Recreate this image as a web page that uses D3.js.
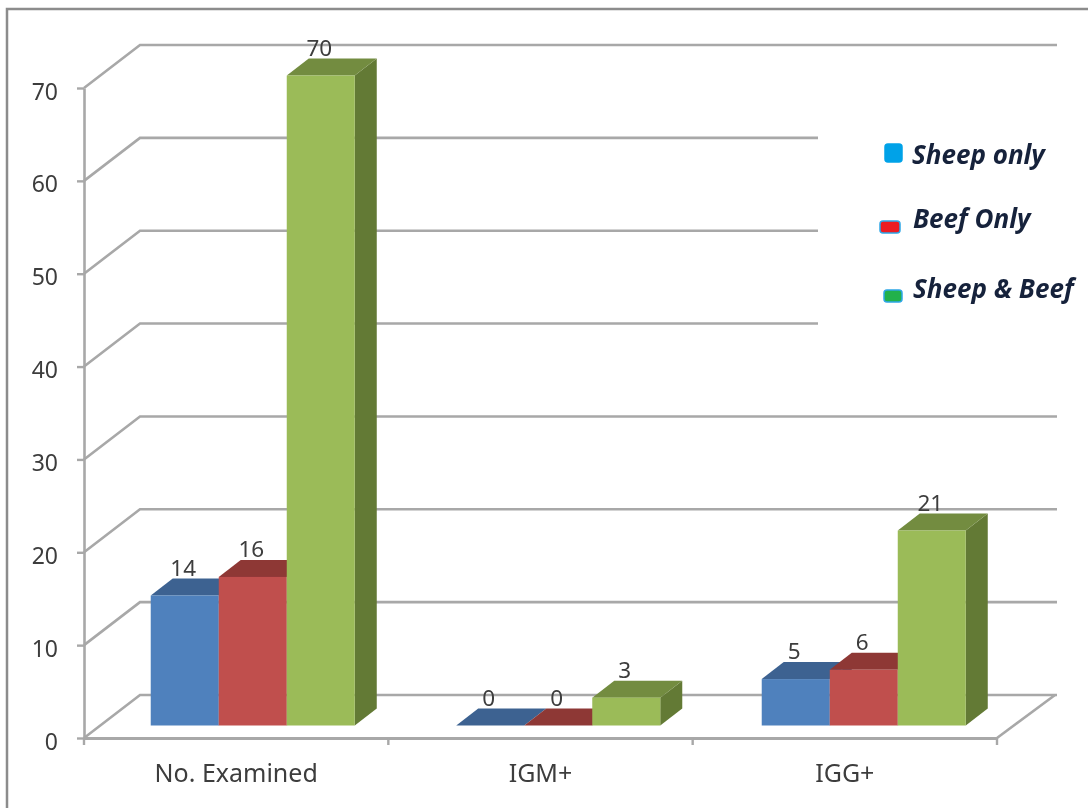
<!DOCTYPE html>
<html>
<head>
<meta charset="utf-8">
<script src="https://cdn.jsdelivr.net/npm/d3@7"></script>
<style>
  html, body { margin: 0; padding: 0; background: #fff; }
  svg { display: block; }
  .lbl { font-family: "Noto Sans", sans-serif; fill: #3c3c3c; }
  .leg { font-family: "Open Sans", sans-serif; font-weight: 700; font-style: italic; font-size: 26px; fill: #14203a; }
</style>
</head>
<body>
<div id="chart"></div>
<script>
// data
var categories = ["No. Examined", "IGM+", "IGG+"];
var seriesNames = ["Sheep only", "Beef Only", "Sheep & Beef"];
var sheepOnly = [14, 0, 5];
var beefOnly = [16, 0, 6];
var sheepBeef = [70, 3, 21];
var seriesValues = [sheepOnly, beefOnly, sheepBeef];
var yTicks = [0, 10, 20, 30, 40, 50, 60, 70];

var svgWidth = 1088;
var svgHeight = 808;

// colours: front, top, side
var frontColors = ["#4f81bd", "#c0504d", "#9bbb59"];
var topColors = ["#3c6291", "#8e3836", "#738c41"];
var sideColors = ["#335a87", "#7d3230", "#647a35"];
var gridColor = "#a8a8a8";

// oblique offsets
var wallDx = 56, wallDy = -43;
var barDx = 22, barDy = -17;
var barLift = 12.5;

var svg = d3.select("#chart").append("svg")
  .attr("width", svgWidth)
  .attr("height", svgHeight);

var defs = svg.append("defs");
defs.append("filter").attr("id", "soft")
  .append("feGaussianBlur").attr("stdDeviation", 0.6);

var root = svg.append("g").attr("filter", "url(#soft)");

// frame, open at the bottom and right like the screenshot
root.append("path")
  .attr("d", "M7,808V9H1088")
  .attr("fill", "none")
  .attr("stroke", "#8c8c8c")
  .attr("stroke-width", 2.5);

var y = d3.scaleLinear().domain([0, 70]).range([738, 88]);
var x0 = d3.scaleBand().domain(categories).range([84, 997]);
// bars sit a little to the right of the axis band
var xBars = d3.scaleBand().domain(categories).range([100, 1016.5]);
var x1 = d3.scaleBand().domain(seriesNames).range([0, xBars.bandwidth()]).paddingOuter(0.746);

// back wall
var grid = root.append("g")
  .attr("fill", "none")
  .attr("stroke", gridColor)
  .attr("stroke-width", 2.6);

grid.selectAll("polyline")
  .data(yTicks)
  .enter()
  .append("polyline")
  .attr("points", d => `84,${y(d)} ${84 + wallDx},${y(d) + wallDy} 1057,${y(d) + wallDy}`);

// floor right edge
grid.append("line")
  .attr("x1", 997).attr("y1", y(0))
  .attr("x2", 997 + wallDx + 2).attr("y2", y(0) + wallDy);

// white patch behind the legend
root.append("rect")
  .attr("x", 818).attr("y", 110)
  .attr("width", 270).attr("height", 240)
  .attr("fill", "#fff");

// axes
var leftAxis = d3.axisLeft(y).tickValues(yTicks).tickSize(7).tickPadding(19).tickSizeOuter(0);
var yAxis = root.append("g").attr("transform", "translate(84,0)").call(leftAxis);
yAxis.select(".domain").attr("stroke", gridColor).attr("stroke-width", 2.6);
yAxis.selectAll(".tick line").attr("stroke", gridColor).attr("stroke-width", 2.4);
yAxis.selectAll(".tick text")
  .attr("class", "lbl")
  .attr("font-size", 23)
  .attr("dy", "0.48em");

var bottomAxis = d3.axisBottom(x0).tickSize(0).tickPadding(26).tickSizeOuter(0);
var xAxis = root.append("g").attr("transform", `translate(0,${y(0)})`).call(bottomAxis);
xAxis.select(".domain").attr("stroke", gridColor).attr("stroke-width", 3);
xAxis.selectAll(".tick text")
  .attr("class", "lbl")
  .attr("font-size", 25);

// tick marks at the band edges
xAxis.selectAll(".edge")
  .data([0].concat(categories.map(c => x0(c) + x0.bandwidth())))
  .enter()
  .append("line")
  .attr("class", "edge")
  .attr("x1", (d, i) => i == 0 ? x0(categories[0]) : d)
  .attr("x2", (d, i) => i == 0 ? x0(categories[0]) : d)
  .attr("y1", 0)
  .attr("y2", 7)
  .attr("stroke", gridColor)
  .attr("stroke-width", 2.4);

// bars
var groups = root.selectAll(".cat")
  .data(categories)
  .enter()
  .append("g")
  .attr("class", "cat")
  .attr("transform", d => `translate(${xBars(d)},0)`);

groups.each(function(cat, ci) {
  var g = d3.select(this);
  seriesNames.forEach(function(name, si) {
    var v = seriesValues[si][ci];
    var left = x1(name);
    var right = left + x1.bandwidth();
    var top = y(v) - barLift;
    var base = y(0) - barLift;

    g.append("polygon")
      .attr("points", `${right},${top} ${right + barDx},${top + barDy} ${right + barDx},${base + barDy} ${right},${base}`)
      .attr("fill", sideColors[si]);
    g.append("polygon")
      .attr("points", `${left},${top} ${right},${top} ${right + barDx},${top + barDy} ${left + barDx},${top + barDy}`)
      .attr("fill", topColors[si]);
    g.append("rect")
      .attr("x", left)
      .attr("y", top)
      .attr("width", x1.bandwidth())
      .attr("height", base - top)
      .attr("fill", frontColors[si]);
  });
});

// value labels go on top of every bar
groups.each(function(cat, ci) {
  var g = d3.select(this);
  seriesNames.forEach(function(name, si) {
    var v = seriesValues[si][ci];
    g.append("text")
      .attr("class", "lbl")
      .attr("x", x1(name) + x1.bandwidth() / 2 - 1.5)
      .attr("y", y(v) - barLift - 20)
      .attr("text-anchor", "middle")
      .attr("font-size", 22.5)
      .text(v);
  });
});

// hand drawn legend
var legendBoxes = [
  {x: 885, y: 144, w: 17, h: 18, fill: "#00a2e8", stroke: "#00a2e8"},
  {x: 880, y: 221, w: 20, h: 12, fill: "#ed1c24", stroke: "#2ea6e6"},
  {x: 884, y: 290, w: 18, h: 12, fill: "#22b14c", stroke: "#2ea6e6"}
];
var legendText = [
  {x: 912, y: 164},
  {x: 913, y: 228},
  {x: 913, y: 298}
];

root.selectAll(".legbox")
  .data(legendBoxes)
  .enter()
  .append("rect")
  .attr("class", "legbox")
  .attr("x", d => d.x).attr("y", d => d.y)
  .attr("width", d => d.w).attr("height", d => d.h)
  .attr("rx", 3)
  .attr("fill", d => d.fill)
  .attr("stroke", d => d.stroke)
  .attr("stroke-width", 1.5);

root.selectAll(".leg")
  .data(seriesNames)
  .enter()
  .append("text")
  .attr("class", "leg")
  .attr("x", (d, i) => legendText[i].x)
  .attr("y", (d, i) => legendText[i].y)
  .text(d => d);
</script>
</body>
</html>
